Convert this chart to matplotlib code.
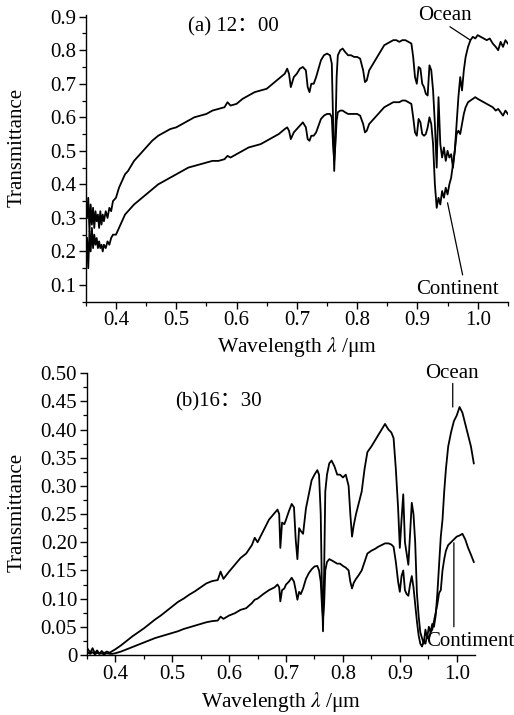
import matplotlib
matplotlib.use("Agg")
import matplotlib.pyplot as plt
from matplotlib.ticker import MultipleLocator, FixedLocator

plt.rcParams['font.family'] = ['Liberation Serif', 'DejaVu Serif']
plt.rcParams['mathtext.fontset'] = 'stix'

# ---------------- Panel (a) 12:00 ----------------
wl_a = [0.352, 0.354, 0.356, 0.358, 0.360, 0.362, 0.364, 0.366, 0.368, 0.370,
        0.372, 0.374, 0.376, 0.378, 0.380, 0.383, 0.386, 0.389, 0.392, 0.395,
        0.400, 0.405, 0.410, 0.415, 0.420, 0.430, 0.440, 0.450, 0.460, 0.470,
        0.480, 0.490, 0.500, 0.510, 0.520, 0.530, 0.540, 0.550, 0.560, 0.570,
        0.580, 0.585, 0.590, 0.600, 0.610, 0.620, 0.630, 0.640, 0.650, 0.660,
        0.670, 0.680, 0.684, 0.687, 0.690, 0.695, 0.700, 0.705, 0.710, 0.715,
        0.718, 0.721, 0.724, 0.728, 0.732, 0.736, 0.740, 0.745, 0.750, 0.755,
        0.758, 0.760, 0.762, 0.764, 0.766, 0.768, 0.772, 0.776, 0.780, 0.785,
        0.790, 0.795, 0.800, 0.805, 0.810, 0.813, 0.816, 0.820, 0.825, 0.830,
        0.835, 0.840, 0.845, 0.850, 0.855, 0.860, 0.865, 0.870, 0.875, 0.880,
        0.885, 0.890, 0.893, 0.896, 0.899, 0.902, 0.905, 0.908, 0.911, 0.914,
        0.917, 0.920, 0.923, 0.926, 0.929, 0.932, 0.935, 0.938, 0.941, 0.944,
        0.947, 0.950, 0.953, 0.956, 0.959, 0.962, 0.965, 0.968, 0.971, 0.974,
        0.977, 0.980, 0.984, 0.988, 0.992, 0.996, 1.000, 1.005, 1.010, 1.015,
        1.020, 1.025, 1.030, 1.034, 1.038, 1.042, 1.046, 1.050]
ocean_a = [0.30, 0.36, 0.26, 0.34, 0.28, 0.33, 0.27, 0.32, 0.29, 0.31,
           0.27, 0.32, 0.28, 0.31, 0.29, 0.32, 0.30, 0.33, 0.32, 0.35,
           0.36, 0.39, 0.41, 0.43, 0.44, 0.47, 0.49, 0.51, 0.53, 0.545,
           0.555, 0.565, 0.57, 0.58, 0.59, 0.60, 0.605, 0.61, 0.62, 0.625,
           0.63, 0.645, 0.635, 0.64, 0.655, 0.665, 0.675, 0.68, 0.685, 0.70,
           0.715, 0.73, 0.745, 0.73, 0.69, 0.72, 0.73, 0.745, 0.75, 0.74,
           0.69, 0.675, 0.70, 0.70, 0.72, 0.745, 0.77, 0.785, 0.79, 0.785,
           0.76, 0.60, 0.44, 0.55, 0.72, 0.785, 0.80, 0.805, 0.795, 0.785,
           0.785, 0.78, 0.78, 0.775, 0.74, 0.705, 0.71, 0.74, 0.755, 0.77,
           0.785, 0.80, 0.815, 0.82, 0.825, 0.83, 0.83, 0.825, 0.83, 0.83,
           0.825, 0.82, 0.78, 0.72, 0.70, 0.75, 0.745, 0.70, 0.69, 0.67,
           0.665, 0.755, 0.74, 0.68, 0.58, 0.45, 0.66, 0.52, 0.48, 0.51,
           0.47, 0.50, 0.48, 0.49, 0.45, 0.50, 0.58, 0.66, 0.72, 0.68,
           0.74, 0.78, 0.81, 0.83, 0.84, 0.835, 0.845, 0.84, 0.835, 0.83,
           0.835, 0.82, 0.81, 0.80, 0.825, 0.81, 0.83, 0.82]
continent_a = [0.24, 0.15, 0.26, 0.20, 0.27, 0.21, 0.25, 0.22, 0.24, 0.21,
               0.23, 0.21, 0.22, 0.20, 0.22, 0.21, 0.23, 0.22, 0.24, 0.25,
               0.25, 0.27, 0.29, 0.31, 0.32, 0.34, 0.355, 0.37, 0.385, 0.40,
               0.41, 0.42, 0.43, 0.44, 0.45, 0.455, 0.46, 0.465, 0.47, 0.47,
               0.475, 0.485, 0.48, 0.49, 0.50, 0.51, 0.515, 0.52, 0.53, 0.54,
               0.55, 0.565, 0.57, 0.56, 0.535, 0.555, 0.565, 0.575, 0.585, 0.57,
               0.535, 0.53, 0.545, 0.545, 0.555, 0.575, 0.595, 0.605, 0.61, 0.61,
               0.60, 0.52, 0.47, 0.52, 0.59, 0.615, 0.62, 0.62, 0.615, 0.61,
               0.61, 0.61, 0.61, 0.605, 0.58, 0.555, 0.56, 0.58, 0.59, 0.60,
               0.61, 0.62, 0.63, 0.635, 0.64, 0.645, 0.645, 0.645, 0.65, 0.65,
               0.645, 0.64, 0.60, 0.555, 0.545, 0.595, 0.585, 0.55, 0.545, 0.55,
               0.57, 0.60, 0.58, 0.52, 0.40, 0.33, 0.36, 0.34, 0.38, 0.36,
               0.39, 0.37, 0.40, 0.42, 0.46, 0.50, 0.55, 0.56, 0.55, 0.58,
               0.61, 0.63, 0.645, 0.65, 0.655, 0.66, 0.655, 0.65, 0.645, 0.64,
               0.635, 0.63, 0.62, 0.625, 0.615, 0.605, 0.62, 0.61]

# ---------------- Panel (b) 16:30 ----------------
wl_b = [0.352, 0.356, 0.360, 0.364, 0.368, 0.372, 0.376, 0.380, 0.385, 0.390,
        0.395, 0.400, 0.410, 0.420, 0.430, 0.440, 0.450, 0.460, 0.470, 0.480,
        0.490, 0.500, 0.510, 0.520, 0.530, 0.540, 0.550, 0.560, 0.570, 0.580,
        0.585, 0.590, 0.600, 0.610, 0.620, 0.630, 0.640, 0.645, 0.650, 0.660,
        0.670, 0.680, 0.685, 0.688, 0.690, 0.693, 0.697, 0.700, 0.705, 0.710,
        0.714, 0.717, 0.720, 0.723, 0.726, 0.730, 0.735, 0.740, 0.745, 0.750,
        0.755, 0.758, 0.761, 0.763, 0.765, 0.767, 0.769, 0.772, 0.776, 0.780,
        0.785, 0.790, 0.795, 0.800, 0.805, 0.810, 0.813, 0.816, 0.819, 0.823,
        0.828, 0.833, 0.838, 0.843, 0.850, 0.856, 0.862, 0.868, 0.874, 0.880,
        0.885, 0.889, 0.893, 0.897, 0.900, 0.903, 0.906, 0.909, 0.912, 0.915,
        0.918, 0.921, 0.924, 0.927, 0.930, 0.933, 0.936, 0.939, 0.942, 0.945,
        0.948, 0.951, 0.954, 0.957, 0.960, 0.963, 0.966, 0.969, 0.972, 0.975,
        0.978, 0.981, 0.985, 0.990, 0.995, 1.000, 1.005, 1.010, 1.015, 1.020,
        1.025, 1.030]
ocean_b = [0.010, 0.004, 0.012, 0.003, 0.008, 0.002, 0.007, 0.003, 0.006, 0.004,
           0.007, 0.010, 0.017, 0.025, 0.033, 0.040, 0.047, 0.055, 0.063, 0.070,
           0.078, 0.086, 0.094, 0.100, 0.107, 0.113, 0.120, 0.127, 0.131, 0.133,
           0.148, 0.135, 0.148, 0.160, 0.172, 0.180, 0.195, 0.208, 0.200, 0.220,
           0.240, 0.252, 0.258, 0.250, 0.190, 0.235, 0.232, 0.240, 0.255, 0.268,
           0.262, 0.205, 0.170, 0.225, 0.220, 0.215, 0.260, 0.285, 0.310, 0.320,
           0.328, 0.320, 0.250, 0.120, 0.042, 0.150, 0.290, 0.320, 0.340, 0.345,
           0.335, 0.320, 0.320, 0.315, 0.320, 0.300, 0.250, 0.210, 0.230, 0.250,
           0.270, 0.290, 0.330, 0.360, 0.370, 0.380, 0.390, 0.400, 0.410, 0.400,
           0.395, 0.385, 0.330, 0.260, 0.190, 0.240, 0.285, 0.200, 0.180, 0.160,
           0.215, 0.270, 0.250, 0.200, 0.110, 0.070, 0.040, 0.030, 0.020, 0.045,
           0.030, 0.050, 0.040, 0.055, 0.050, 0.070, 0.110, 0.160, 0.210, 0.240,
           0.290, 0.330, 0.370, 0.395, 0.415, 0.425, 0.440, 0.430, 0.410, 0.390,
           0.370, 0.340]
continent_b = [0.004, 0.002, 0.005, 0.001, 0.004, 0.002, 0.003, 0.001, 0.003, 0.002,
               0.002, 0.003, 0.006, 0.010, 0.014, 0.018, 0.022, 0.026, 0.030, 0.033,
               0.036, 0.039, 0.042, 0.046, 0.049, 0.052, 0.055, 0.058, 0.060, 0.061,
               0.068, 0.064, 0.070, 0.074, 0.080, 0.083, 0.092, 0.098, 0.100, 0.108,
               0.115, 0.120, 0.125, 0.120, 0.095, 0.115, 0.118, 0.125, 0.130, 0.137,
               0.130, 0.115, 0.098, 0.112, 0.108, 0.118, 0.135, 0.145, 0.152, 0.157,
               0.158, 0.150, 0.130, 0.090, 0.065, 0.090, 0.150, 0.165, 0.170, 0.168,
               0.165, 0.162, 0.162, 0.158, 0.155, 0.150, 0.130, 0.118, 0.128, 0.135,
               0.142, 0.150, 0.165, 0.180, 0.185, 0.188, 0.192, 0.195, 0.198, 0.198,
               0.196, 0.192, 0.165, 0.130, 0.112, 0.140, 0.150, 0.115, 0.108, 0.105,
               0.125, 0.140, 0.120, 0.090, 0.060, 0.035, 0.020, 0.015, 0.025, 0.020,
               0.035, 0.028, 0.040, 0.045, 0.060, 0.075, 0.090, 0.110, 0.115, 0.150,
               0.170, 0.185, 0.195, 0.200, 0.205, 0.210, 0.212, 0.215, 0.205, 0.190,
               0.178, 0.165]

fig = plt.figure(figsize=(5.14, 7.15), dpi=100)
ax1 = fig.add_axes([0.167, 0.578, 0.821, 0.401])
ax2 = fig.add_axes([0.169, 0.084, 0.755, 0.394])

lw = 1.3
ax1.plot(wl_a, ocean_a, color='black', lw=lw)
ax1.plot(wl_a, continent_a, color='black', lw=lw)
ax2.plot(wl_b, ocean_b, color='black', lw=lw)
ax2.plot(wl_b, continent_b, color='black', lw=lw)

fs = 15
for ax, lp in ((ax1, 3.5), (ax2, 4.5)):
    ax.spines['top'].set_visible(False)
    ax.spines['right'].set_visible(False)
    ax.spines['left'].set_linewidth(1.0)
    ax.spines['bottom'].set_linewidth(1.0)
    ax.tick_params(which='major', direction='out', length=5, width=1.0, labelsize=fs, pad=2)
    ax.tick_params(which='minor', direction='out', length=3, width=0.9)
    ax.xaxis.set_major_locator(FixedLocator([0.4, 0.5, 0.6, 0.7, 0.8, 0.9, 1.0]))
    ax.xaxis.set_minor_locator(MultipleLocator(0.05))
    ax.set_xticklabels(['0.4', '0.5', '0.6', '0.7', '0.8', '0.9', '1.0'])
    ax.set_xlabel(r'Wavelength $\lambda$ /μm', fontsize=15.5, labelpad=lp)
    ax.set_ylabel('Transmittance', fontsize=15)

ax1.yaxis.set_label_coords(-0.140, 0.537)
ax2.yaxis.set_label_coords(-0.155, 0.507)

ax1.set_xlim(0.35, 1.05)
ax1.set_ylim(0.05, 0.905)
ax1.yaxis.set_major_locator(FixedLocator([0.1, 0.2, 0.3, 0.4, 0.5, 0.6, 0.7, 0.8, 0.9]))
ax1.set_yticklabels(['0.1', '0.2', '0.3', '0.4', '0.5', '0.6', '0.7', '0.8', '0.9'])
ax1.yaxis.set_minor_locator(MultipleLocator(0.05))

ax2.set_xlim(0.35, 1.032)
ax2.set_ylim(0.0, 0.5)
yt = [0, 0.05, 0.10, 0.15, 0.20, 0.25, 0.30, 0.35, 0.40, 0.45, 0.50]
ax2.yaxis.set_major_locator(FixedLocator(yt))
ax2.set_yticklabels(['0'] + ['%.2f' % v for v in yt[1:]])
ax2.yaxis.set_minor_locator(MultipleLocator(0.025))

lab = ['Liberation Serif', 'Noto Sans CJK SC']
leader = dict(arrowstyle='-', color='black', lw=0.9, shrinkA=0, shrinkB=0)

# annotations panel (a)
ax1.text(0.595, 0.87, '(a) 12：00', fontsize=fs, ha='center', va='center', family=lab)
ax1.text(0.945, 0.905, 'Ocean', fontsize=fs, ha='center', va='center')
ax1.annotate('', xy=(0.987, 0.831), xytext=(0.954, 0.870), arrowprops=leader)
ax1.text(0.967, 0.085, 'Continent', fontsize=fs, ha='center', va='center')
ax1.annotate('', xy=(0.950, 0.345), xytext=(0.975, 0.13), arrowprops=leader)

# annotations panel (b)
ax2.text(0.581, 0.449, '(b)16：30', fontsize=fs, ha='center', va='center', family=lab)
ax2.text(0.991, 0.50, 'Ocean', fontsize=fs, ha='center', va='center', clip_on=False)
ax2.annotate('', xy=(0.993, 0.44), xytext=(0.993, 0.482), arrowprops=leader,
             annotation_clip=False)
ax2.text(1.023, 0.023, 'Contiment', fontsize=fs, ha='center', va='center', clip_on=False)
ax2.annotate('', xy=(0.995, 0.199), xytext=(0.995, 0.05), arrowprops=leader,
             annotation_clip=False)

fig.savefig('out.png', dpi=100)
